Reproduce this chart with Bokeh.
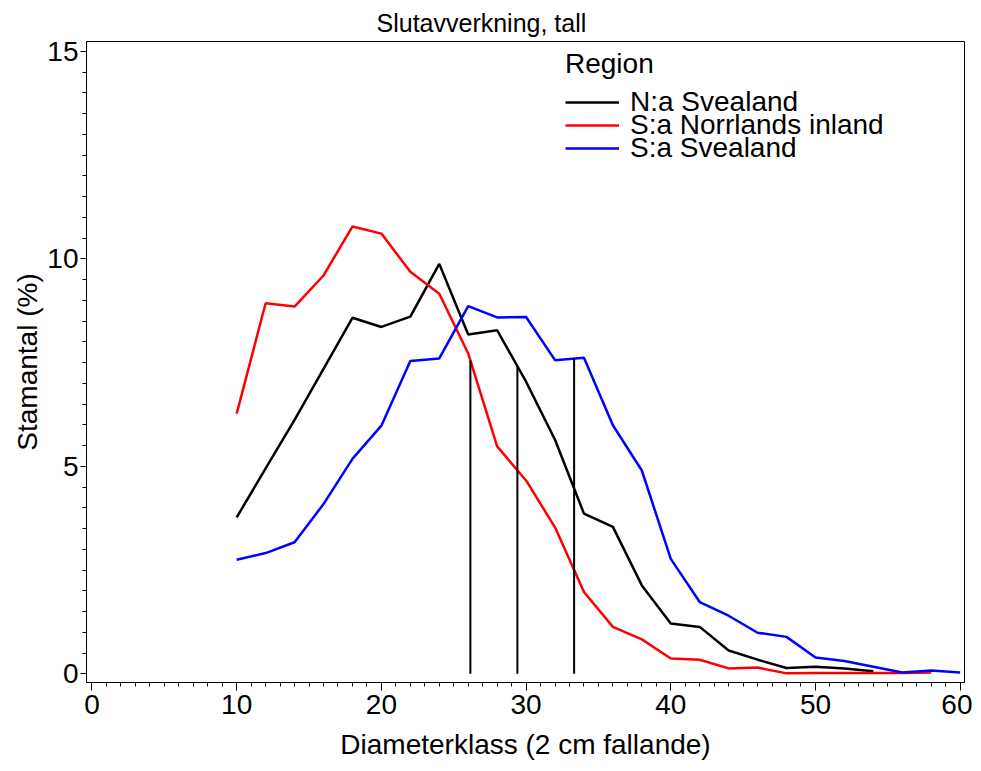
from bokeh.plotting import figure
from bokeh.models import Range1d, Legend, LegendItem, FixedTicker
from bokeh.embed import file_html
from bokeh.resources import INLINE
import numpy as np

FONT = "Liberation Sans"

# Diameter classes (cm)
diam_black = [10, 12, 14, 16, 18, 20, 22, 24, 26, 28, 30, 32, 34, 36, 38, 40, 42, 44, 46, 48, 50, 52, 54]
diam_red = [10, 12, 14, 16, 18, 20, 22, 24, 26, 28, 30, 32, 34, 36, 38, 40, 42, 44, 46, 48, 50, 52, 54, 56, 58]
diam_blue = [10, 12, 14, 16, 18, 20, 22, 24, 26, 28, 30, 32, 34, 36, 38, 40, 42, 44, 46, 48, 50, 52, 54, 56, 58, 60]

# Stamantal (%) per region
na_svealand = [3.77, 4.95, 6.12, 7.35, 8.58, 8.36, 8.61, 9.88, 8.18, 8.28, 7.04, 5.64, 3.86, 3.54,
               2.13, 1.21, 1.13, 0.56, 0.34, 0.14, 0.17, 0.13, 0.06]
sa_norrlands_inland = [6.27, 8.93, 8.85, 9.60, 10.78, 10.61, 9.69, 9.16, 7.72, 5.48, 4.66, 3.53, 1.97,
                       1.13, 0.83, 0.37, 0.34, 0.13, 0.15, 0.01, 0.02, 0.02, 0.02, 0.02, 0.03]
sa_svealand = [2.75, 2.91, 3.17, 4.09, 5.18, 5.98, 7.54, 7.60, 8.86, 8.59, 8.60, 7.56, 7.62, 5.99,
               4.90, 2.77, 1.73, 1.40, 0.99, 0.89, 0.39, 0.31, 0.17, 0.03, 0.08, 0.03]

region_names = ["N:a Svealand", "S:a Norrlands inland", "S:a Svealand"]
region_colors = ["#000000", "#FF0000", "#0000FF"]

# Mean diameter per region (vertical reference lines)
mean_diam = {"S:a Norrlands inland": 26.15, "N:a Svealand": 29.4, "S:a Svealand": 33.32}

x_ticks = [0, 10, 20, 30, 40, 50, 60]
x_minor = list(range(0, 61))
y_ticks = [0, 5, 10, 15]
y_minor = [i * 0.5 for i in range(31)]

p = figure(width=972, height=762, output_backend="svg", toolbar_location=None,
           x_range=Range1d(-0.38, 60.3), y_range=Range1d(-0.21, 15.24),
           min_border_left=86, min_border_right=8, min_border_top=41, min_border_bottom=66)

p.title.text = "Slutavverkning, tall"
p.title.align = "left"
p.title.offset = 290
p.title.standoff = 10
p.title.text_font = FONT
p.title.text_font_style = "normal"
p.title.text_font_size = "25px"
p.title.text_color = "black"

p.grid.visible = False
p.outline_line_color = "black"
p.outline_line_width = 1
p.background_fill_color = "white"
p.border_fill_color = "white"

series = [(diam_black, na_svealand), (diam_red, sa_norrlands_inland), (diam_blue, sa_svealand)]
renderers = []
for (xs, ys), name, col in zip(series, region_names, region_colors):
    r = p.line(xs, ys, line_color=col, line_width=2.5)
    renderers.append(r)

# mean lines, from 0 to the region's curve
for (xs, ys), name in zip(series, region_names):
    m = mean_diam[name]
    top = float(np.interp(m, xs, ys))
    p.segment(x0=[m], y0=[0], x1=[m], y1=[top], line_color="black", line_width=2)

# legend: one row per region, rows tightly stacked
row_bottoms = [564, 541, 518]
for i, (name, r) in enumerate(zip(region_names, renderers)):
    lg = Legend(items=[LegendItem(label=name, renderers=[r])], location=(479, row_bottoms[i]))
    if i == 0:
        lg.title = "Region"
        lg.title_text_font = FONT
        lg.title_text_font_size = "28px"
        lg.title_text_font_style = "normal"
        lg.title_text_color = "black"
        lg.title_standoff = 6
    lg.label_text_font = FONT
    lg.label_text_font_size = "28px"
    lg.label_text_color = "black"
    lg.label_height = 20
    lg.glyph_width = 54
    lg.glyph_height = 20
    lg.spacing = 0
    lg.label_standoff = 11
    lg.border_line_color = None
    lg.background_fill_alpha = 0
    lg.padding = 0
    lg.margin = 0
    p.add_layout(lg)

for ax in (p.xaxis[0], p.yaxis[0]):
    ax.axis_line_color = "black"
    ax.major_tick_line_color = "black"
    ax.minor_tick_line_color = "black"
    ax.major_tick_in = 0
    ax.minor_tick_in = 0
    ax.major_label_text_font = FONT
    ax.major_label_text_font_size = "28px"
    ax.major_label_text_color = "black"
    ax.axis_label_text_font = FONT
    ax.axis_label_text_font_size = "28px"
    ax.axis_label_text_font_style = "normal"
    ax.axis_label_text_color = "black"

p.xaxis[0].ticker = FixedTicker(ticks=x_ticks, minor_ticks=x_minor)
p.yaxis[0].ticker = FixedTicker(ticks=y_ticks, minor_ticks=y_minor)

p.xaxis.major_tick_out = 8
p.xaxis.minor_tick_out = 4
p.xaxis.major_label_standoff = 4
p.xaxis.axis_label = "Diameterklass (2 cm fallande)"
p.xaxis.axis_label_standoff = 12

p.yaxis.major_tick_out = 6
p.yaxis.minor_tick_out = 4
p.yaxis.major_label_standoff = 2
p.yaxis.axis_label = "Stamantal (%)"
p.yaxis.axis_label_standoff = 1

open("out.html", "w").write(file_html(p, INLINE))
